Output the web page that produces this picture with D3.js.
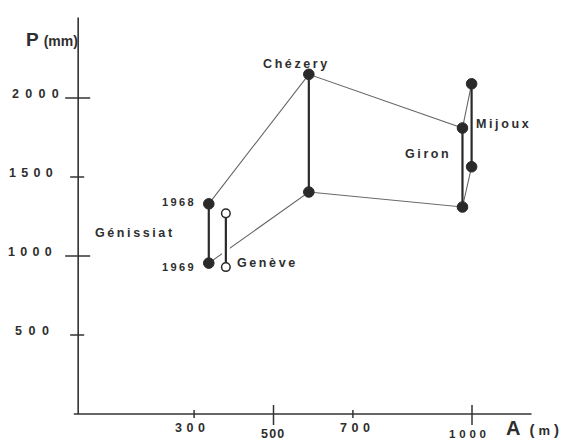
<!DOCTYPE html>
<html><head><meta charset="utf-8">
<script src="https://cdn.jsdelivr.net/npm/d3@7"></script>
<style>
html,body{margin:0;padding:0;background:#fff;}
text{font-family:"Liberation Sans",Arial,Helvetica,sans-serif;font-weight:bold;fill:#2e2e2e;}
</style></head>
<body>
<svg id="c" width="564" height="440"></svg>
<script>
// ---- data ----
const stations = ["Génissiat", "Genève", "Chézery", "Giron", "Mijoux"];
const altitude = [337, 380, 589, 976, 999];
const p1968 = [1330, 1270, 2150, 1810, 2090];
const p1969 = [955, 930, 1405, 1310, 1565];
const filled = [true, false, true, true, true];
const yTicks = [500, 1000, 1500, 2000];
const yTickLabels = ["500", "1000", "1500", "2000"];
const xTicks = [300, 500, 700, 1000];
const xTickLabels = ["300", "500", "700", "1000"];

const svg = d3.select("#c");
const x = d3.scaleLinear().domain([0, 1000]).range([75, 472]);
const y = d3.scaleLinear().domain([0, 2000]).range([414, 98]);

const axisCol = "#333";
// axes lines
svg.append("line").attr("x1", x(-3)).attr("x2", x(1150)).attr("y1", y(0)).attr("y2", y(0))
  .attr("stroke", axisCol).attr("stroke-width", 1.6);
svg.append("line").attr("x1", x(8)).attr("x2", x(8)).attr("y1", y(0)).attr("y2", y(2510))
  .attr("stroke", axisCol).attr("stroke-width", 1.6);

// y ticks
const yMajor = v => v % 1000 === 0;
svg.selectAll(".yt").data(yTicks).join("line")
  .attr("x1", d => x(8) - (yMajor(d) ? 13 : 8)).attr("x2", d => x(8) + (yMajor(d) ? 12 : 6))
  .attr("y1", d => y(d)).attr("y2", d => y(d))
  .attr("stroke", axisCol).attr("stroke-width", 1.5);
const yLabX = {500: 15, 1000: 8, 1500: 9, 2000: 12};
const yLabSp = {500: 6.5, 1000: 5.3, 1500: 5.3, 2000: 6.3};
svg.selectAll(".yl").data(yTicks).join("text")
  .attr("x", d => yLabX[d]).attr("y", d => y(d))
  .attr("text-anchor", "start").attr("font-size", 12.5)
  .attr("letter-spacing", d => yLabSp[d])
  .text((d, i) => yTickLabels[i]);

// x ticks
const xMajor = v => v === 500 || v === 1000;
svg.selectAll(".xt").data(xTicks).join("line")
  .attr("x1", d => x(d)).attr("x2", d => x(d))
  .attr("y1", d => y(0) - (xMajor(d) ? 9 : 4)).attr("y2", d => y(0) + (xMajor(d) ? 11 : 4))
  .attr("stroke", axisCol).attr("stroke-width", 1.5);
const xLabX = {300: 175, 500: 261, 700: 340, 1000: 449};
const xLabSp = {300: 4.5, 500: 1.2, 700: 4.5, 1000: 3.8};
svg.selectAll(".xl").data(xTicks).join("text")
  .attr("x", d => xLabX[d]).attr("y", d => xMajor(d) ? 437.5 : 432)
  .attr("text-anchor", "start").attr("font-size", d => d === 1000 ? 11.5 : 12.5)
  .attr("letter-spacing", d => xLabSp[d])
  .text((d, i) => xTickLabels[i]);

// axis titles
const pt = svg.append("text").attr("x", 26).attr("y", 46);
pt.append("tspan").attr("font-size", 19).text("P");
pt.append("tspan").attr("font-size", 14).attr("dx", 5).text("(mm)");
const at = svg.append("text").attr("x", 506).attr("y", 435);
at.append("tspan").attr("font-size", 20).text("A");
at.append("tspan").attr("font-size", 15).attr("dx", 9).text("(");
at.append("tspan").attr("font-size", 13).attr("dx", 4).text("m");
at.append("tspan").attr("font-size", 15).attr("dx", 4).text(")");

// series connecting lines (stations with filled markers)
const idx = [0, 2, 3, 4];
const line = d3.line().x(d => x(d[0])).y(d => y(d[1]));
[p1968, p1969].forEach(series => {
  svg.append("path").attr("d", line(idx.map(i => [altitude[i], series[i]])))
    .attr("fill", "none").attr("stroke", "#666").attr("stroke-width", 1.1);
});

// white gap where Genève bar crosses the 1969 line
svg.append("line").attr("x1", x(altitude[1])).attr("x2", x(altitude[1]))
  .attr("y1", y(p1968[1]) + 4).attr("y2", y(p1969[1]) - 4)
  .attr("stroke", "#fff").attr("stroke-width", 8);

// vertical bars
svg.selectAll(".bar").data(stations).join("line")
  .attr("x1", (d, i) => x(altitude[i])).attr("x2", (d, i) => x(altitude[i]))
  .attr("y1", (d, i) => y(p1968[i])).attr("y2", (d, i) => y(p1969[i]))
  .attr("stroke", "#2a2a2a").attr("stroke-width", 2.2);

// markers
stations.forEach((s, i) => {
  [p1968[i], p1969[i]].forEach(v => {
    svg.append("circle").attr("cx", x(altitude[i])).attr("cy", y(v))
      .attr("r", filled[i] ? 5.3 : 4.3)
      .attr("fill", filled[i] ? "#2a2a2a" : "#fff")
      .attr("stroke", "#2a2a2a").attr("stroke-width", filled[i] ? 1 : 1.5);
  });
});

// station labels
const labelPos = {
  "Génissiat": [95, 237],
  "Genève": [237, 267],
  "Chézery": [263, 68],
  "Giron": [405, 158],
  "Mijoux": [476, 128]
};
svg.selectAll(".sl").data(stations).join("text")
  .attr("x", d => labelPos[d][0]).attr("y", d => labelPos[d][1])
  .attr("font-size", 12.5).attr("letter-spacing", 2.6)
  .text(d => d);

// year labels
svg.append("text").attr("x", 162).attr("y", 206)
  .attr("font-size", 11).attr("letter-spacing", 2.4).text("1968");
svg.append("text").attr("x", 162).attr("y", 271)
  .attr("font-size", 11).attr("letter-spacing", 2.4).text("1969");
</script>
</body></html>
